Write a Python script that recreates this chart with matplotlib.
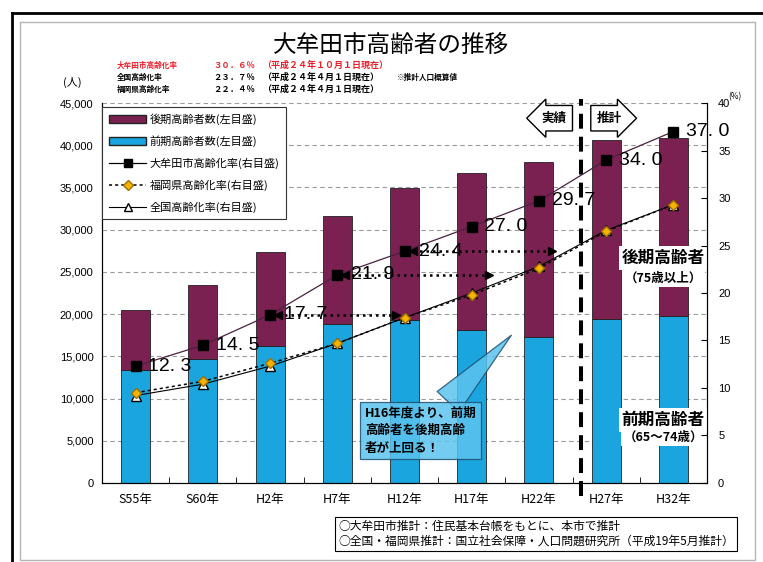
import matplotlib
matplotlib.use("Agg")
import matplotlib.pyplot as plt
from matplotlib.lines import Line2D
from matplotlib.patches import Patch, Rectangle
import numpy as np

plt.rcParams['font.family'] = ['Noto Sans CJK JP', 'DejaVu Sans']

# 年次
years = ["S55年", "S60年", "H2年", "H7年", "H12年", "H17年", "H22年", "H27年", "H32年"]
# 前期高齢者数(65~74歳) と 後期高齢者数(75歳以上)  単位:人
zenki = [13400, 14700, 16200, 18800, 19300, 18100, 17300, 19400, 19800]
kouki = [7100, 8800, 11200, 12800, 15600, 18600, 20700, 21200, 21100]
# 高齢化率 (%)
omuta = [12.3, 14.5, 17.7, 21.9, 24.4, 27.0, 29.7, 34.0, 37.0]
fukuoka = [9.5, 10.7, 12.6, 14.7, 17.4, 19.8, 22.6, 26.5, 29.3]
zenkoku = [9.2, 10.4, 12.3, 14.7, 17.4, 20.0, 22.8, 26.6, 29.3]
# 大牟田市の率が県の率に追いつくまでの矢印 (開始年の番号, 終点)
arrows = [(2, 3.88), (3, 5.25), (4, 6.2)]

PURPLE = '#7a2152'
BLUE = '#1ba5de'
NUM_FONT = ['Liberation Sans', 'DejaVu Sans']

fig = plt.figure(figsize=(7.63, 5.62), dpi=100)
ax = fig.add_axes([0.1337, 0.1406, 0.7929, 0.6761])
x = np.arange(len(years))

ax.bar(x, zenki, 0.43, color=BLUE, edgecolor='#222222', linewidth=0.6)
ax.bar(x, kouki, 0.43, bottom=zenki, color=PURPLE, edgecolor='#222222', linewidth=0.6)

ax.set_xlim(-0.5, 8.5)
ax.set_ylim(0, 45000)
ax.set_yticks(np.arange(0, 45001, 5000))
ax.set_yticklabels([f"{v:,}" for v in range(0, 45001, 5000)], fontsize=8, family=NUM_FONT)
ax.yaxis.grid(True, linestyle=(0, (4, 3)), color='#9a9a9a', linewidth=0.8)
ax.set_axisbelow(True)
ax.set_xticks(x)
ax.set_xticklabels(years, fontsize=9)
ax.set_xticks(np.arange(-0.5, 9, 1), minor=True)
ax.tick_params(axis='x', which='major', length=0, pad=7)
ax.tick_params(axis='x', which='minor', direction='in', length=4)
ax.tick_params(axis='y', length=0, pad=6)
ax.spines['top'].set_visible(False)

ax2 = ax.twinx()
ax2.set_ylim(0, 40)
ax2.set_yticks(np.arange(0, 41, 5))
ax2.set_yticklabels([str(v) for v in range(0, 41, 5)], fontsize=8, family=NUM_FONT)
ax2.tick_params(axis='y', direction='in', length=4, pad=8)
ax2.spines['top'].set_visible(False)

# 高齢化率の折れ線
ax2.plot(x, zenkoku, color='black', linewidth=0.8, marker='^', markersize=7,
         markerfacecolor='white', markeredgecolor='black', zorder=3)
ax2.plot(x, fukuoka, color='black', linewidth=1.1, linestyle=(0, (2, 2)),
         marker='D', markersize=5, markerfacecolor='#f5b400',
         markeredgecolor='#a07000', zorder=4)
ax2.plot(x, omuta, color='#4a2040', linewidth=0.9, marker='s', markersize=7,
         markerfacecolor='black', markeredgecolor='black', zorder=5)

for start, end in arrows:
    v = omuta[start]
    ax2.plot([start + 0.12, end], [v, v], color='black', linewidth=1.8,
             linestyle=(0, (1, 1.6)), zorder=5)
    ax2.plot([start + 0.12], [v], marker='<', color='black', markersize=6, zorder=6)
    ax2.plot([end], [v], marker='>', color='black', markersize=6, zorder=6)

for i, v in enumerate(omuta):
    off = 0.21 if i in [a[0] for a in arrows] else 0.19
    ax2.text(i + off, v, f"{v:.1f}".replace(".", ". "), fontsize=14, family=NUM_FONT,
             va='center', ha='left', zorder=7, clip_on=False)

# 実績 / 推計 の境界
ax.plot([6.63, 6.63], [-1600, 45500], color='black', linewidth=2.9,
        linestyle=(0, (3.7, 2)), zorder=6, clip_on=False)
ax.text(6.22, 43200, "実績", fontsize=9, fontweight='bold', ha='center', va='center',
        bbox=dict(boxstyle='larrow,pad=0.5', fc='white', ec='black', lw=1), zorder=8)
ax.text(7.05, 43200, "推計", fontsize=9, fontweight='bold', ha='center', va='center',
        bbox=dict(boxstyle='rarrow,pad=0.5', fc='white', ec='black', lw=1), zorder=8)

# 区分ラベル
white = dict(fc='white', ec='none', pad=2)
ax.text(7.85, 26650, "後期高齢者", fontsize=12, fontweight='bold', ha='center',
        va='center', bbox=white, zorder=7)
ax.text(7.85, 24300, "（75歳以上）", fontsize=9, fontweight='bold', ha='center',
        va='center', bbox=white, zorder=7)
ax.text(7.85, 7460, "前期高齢者", fontsize=12, fontweight='bold', ha='center',
        va='center', bbox=white, zorder=7)
ax.text(7.85, 5450, "（65～74歳）", fontsize=9, fontweight='bold', ha='center',
        va='center', bbox=white, zorder=7)

# 吹き出し
ax.annotate("H16年度より、前期\n高齢者を後期高齢\n者が上回る！", xy=(5.59, 17500),
            xytext=(4.24, 6200), fontsize=9, fontweight='bold', ha='center',
            va='center', multialignment='left', linespacing=1.45, zorder=9,
            bbox=dict(boxstyle='square,pad=0.35', fc='#5cc3ee', ec='#1d4f6e',
                      lw=0.9, alpha=0.85),
            arrowprops=dict(arrowstyle='wedge,tail_width=2.4', fc='#5cc3ee',
                            ec='#1d4f6e', lw=0.9, alpha=0.85, shrinkA=0, shrinkB=0))

handles = [
    Patch(facecolor=PURPLE, edgecolor='#222222'),
    Patch(facecolor=BLUE, edgecolor='#222222'),
    Line2D([], [], color='black', linewidth=0.9, marker='s', markersize=6),
    Line2D([], [], color='black', linewidth=1.1, linestyle=(0, (2, 2)), marker='D',
           markersize=5, markerfacecolor='#f5b400', markeredgecolor='#a07000'),
    Line2D([], [], color='black', linewidth=0.8, marker='^', markersize=6,
           markerfacecolor='white', markeredgecolor='black'),
]
labels = ["後期高齢者数(左目盛)", "前期高齢者数(左目盛)", "大牟田市高齢化率(右目盛)",
          "福岡県高齢化率(右目盛)", "全国高齢化率(右目盛)"]
leg = ax2.legend(handles, labels, loc='upper left', bbox_to_anchor=(0.0, 0.99),
                 fontsize=8, frameon=True, fancybox=False, edgecolor='#333333',
                 framealpha=1, borderpad=0.6, labelspacing=0.95, handlelength=3.4,
                 handletextpad=0.3, borderaxespad=0)
leg.get_frame().set_linewidth(0.8)

# 見出し
fig.text(0.512, 1 - 45 / 562, "大牟田市高齢者の推移", fontsize=17, ha='center', va='center')
rows = [
    ("大牟田市高齢化率", "３０．６％", "（平成２４年１０月１日現在）", "", '#e8202a'),
    ("全国高齢化率", "２３．７％", "（平成２４年４月１日現在）", "※推計人口概算値", 'black'),
    ("福岡県高齢化率", "２２．４％", "（平成２４年４月１日現在）", "", 'black'),
]
for k, (name, val, when, note, col) in enumerate(rows):
    yy = 1 - (65 + 12 * k) / 562
    fig.text(117 / 763, yy, name, fontsize=5.5, fontweight='bold', color=col, va='center')
    fig.text(213 / 763, yy, val, fontsize=6, fontweight='bold', color=col, va='center')
    fig.text(262 / 763, yy, when, fontsize=6.5, fontweight='bold', color=col, va='center')
    if note:
        fig.text(397 / 763, yy, note, fontsize=5.5, fontweight='bold', color=col, va='center')

fig.text(72 / 763, 1 - 82 / 562, "(人)", fontsize=8, ha='center', va='center')
fig.text(735 / 763, 1 - 97 / 562, "(%)", fontsize=6, ha='center', va='center')

fig.text(338 / 763, 1 - 534 / 562,
         "○大牟田市推計：住民基本台帳をもとに、本市で推計\n"
         "○全国・福岡県推計：国立社会保障・人口問題研究所（平成19年5月推計）",
         fontsize=8.5, ha='left', va='center', linespacing=1.15,
         bbox=dict(boxstyle='square,pad=0.25', fc='white', ec='black', lw=0.8))

# 外枠
fig.add_artist(Line2D([12 / 763, 12 / 763], [0, 1 - 13 / 562], color='black',
                      linewidth=2, transform=fig.transFigure))
fig.add_artist(Line2D([12 / 763, 1], [1 - 13 / 562, 1 - 13 / 562], color='black',
                      linewidth=2, transform=fig.transFigure))
fig.add_artist(Rectangle((20 / 763, 2 / 562), 735 / 763, 538 / 562, fill=False,
                         edgecolor='#b5b5b5', linewidth=1, transform=fig.transFigure))

fig.savefig("out.png", dpi=100)
